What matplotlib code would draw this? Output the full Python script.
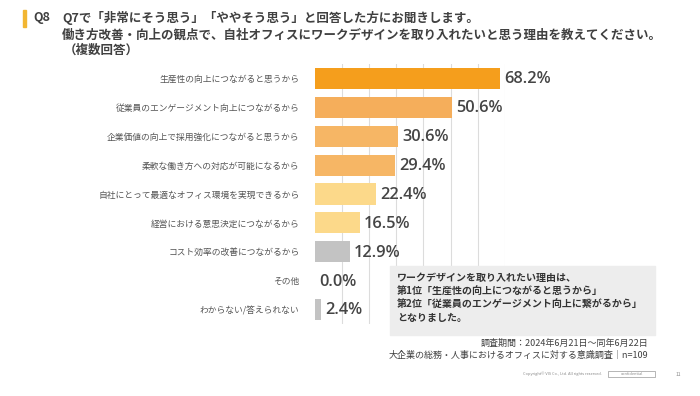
import matplotlib
matplotlib.use("Agg")
import matplotlib.pyplot as plt
from matplotlib.patches import Rectangle

plt.rcParams['font.family'] = ['Noto Sans CJK JP', 'DejaVu Sans']

categories = ["生産性の向上につながると思うから",
              "従業員のエンゲージメント向上につながるから",
              "企業価値の向上で採用強化につながると思うから",
              "柔軟な働き方への対応が可能になるから",
              "自社にとって最適なオフィス環境を実現できるから",
              "経営における意思決定につながるから",
              "コスト効率の改善につながるから",
              "その他",
              "わからない/答えられない"]
values = [68.2, 50.6, 30.6, 29.4, 22.4, 16.5, 12.9, 0.0, 2.4]
bar_colors = ["#F59E1C", "#F5AE5B", "#F6B665", "#F6B665", "#FCD98A",
              "#FCD98A", "#C3C3C3", "#C3C3C3", "#C3C3C3"]

title_lines = ["Q7で「非常にそう思う」「ややそう思う」と回答した方にお聞きします。",
               "働き方改善・向上の観点で、自社オフィスにワークデザインを取り入れたいと思う理由を教えてください。",
               "（複数回答）"]
note_lines = ["ワークデザインを取り入れたい理由は、",
              "第1位「生産性の向上につながると思うから」",
              "第2位「従業員のエンゲージメント向上に繋がるから」",
              "となりました。"]
source_lines = ["調査期間：2024年6月21日～同年6月22日",
                "大企業の総務・人事におけるオフィスに対する意識調査｜n=109"]

fig = plt.figure(figsize=(7, 3.96), dpi=100)
W, H = 700, 396

def fx(x):
    return x / W

def fy(y):
    return 1 - y / H

ax = fig.add_axes([fx(314.7), fy(324), (505 - 314.7) / W, (324 - 64) / H])
y = list(range(len(categories)))
ax.barh(y, values, height=0.73, color=bar_colors, zorder=3)
ax.set_ylim(len(categories) - 0.5, -0.5)
ax.set_xlim(0, 70)
for gx in range(10, 71, 10):
    ax.axvline(gx, color="#DCDCDC", lw=0.8, zorder=1)
for s in ax.spines.values():
    s.set_visible(False)
ax.set_xticks([])
ax.set_yticks(y)
ax.set_yticklabels(categories, fontsize=6.3, color="#555555")
ax.tick_params(axis="y", length=0, pad=11)
for i, v in enumerate(values):
    ax.text(v + 1.6, i + 0.03, f"{v:.1f}%", va="center", ha="left",
            fontsize=11.8, fontweight="semibold", color="#454545", zorder=4,
            family=["Open Sans", "DejaVu Sans"])

# header
fig.add_artist(Rectangle((fx(23), fy(27)), 2.5 / W, 17 / H, color="#F2B632",
                         transform=fig.transFigure))
fig.text(fx(33), fy(18), "Q8", fontsize=9, fontweight="bold", color="#404040", va="center")
fig.text(fx(62), fy(18), title_lines[0], fontsize=9, fontweight="bold", color="#404040", va="center")
fig.text(fx(62), fy(35), title_lines[1], fontsize=9, fontweight="bold", color="#404040", va="center")
fig.text(fx(64), fy(50), title_lines[2], fontsize=9, fontweight="bold", color="#404040", va="center")

# note box
fig.add_artist(Rectangle((fx(390), fy(335)), 265 / W, 69 / H, color="#EDEDED",
                         transform=fig.transFigure, zorder=5))
for k, line in enumerate(note_lines):
    fig.text(fx(397), fy(278 + k * 13.5), line, fontsize=7.2, fontweight="bold",
             color="#333333", va="center", zorder=6)

for k, line in enumerate(source_lines):
    fig.text(fx(648), fy(343 + k * 12.5), line, fontsize=6.5, color="#404040",
             ha="right", va="center")

# footer
fig.text(fx(602), fy(374), "Copyright© VIS Co., Ltd. All rights reserved.", fontsize=2.8,
         color="#888888", ha="right", va="center")
fig.add_artist(Rectangle((fx(608), fy(377)), 47 / W, 6 / H, fill=False, ec="#999999",
                         lw=0.5, transform=fig.transFigure))
fig.text(fx(631.5), fy(374), "confidential", fontsize=2.8, color="#888888",
         ha="center", va="center")
fig.text(fx(678), fy(374), "11", fontsize=3.5, color="#888888", ha="center", va="center")

fig.savefig("out.png", dpi=100, facecolor="white")
